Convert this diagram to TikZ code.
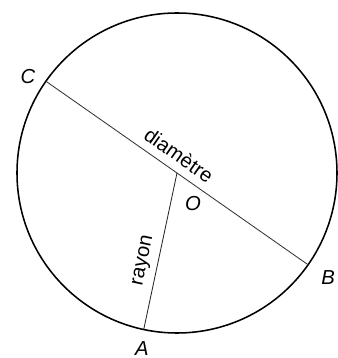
\documentclass[tikz,border=0pt]{standalone}
\usepackage{fontspec}
\setsansfont{Liberation Sans}
\usepackage{tikz}
\usetikzlibrary{calc}

\begin{document}
\begin{tikzpicture}[line join=round, line cap=round]
\useasboundingbox (-4.425,-4.625) rectangle (4.000,4.325);
\coordinate (O) at (0.000,0.000);
\coordinate (A) at (-0.832,-3.912);
\coordinate (B) at (3.277,-2.294);
\coordinate (C) at (-3.277,2.294);
\draw[line width=1.1pt] (O) circle (4);
\draw[line width=0.6pt, black!80] (C) -- (B);
\draw[line width=0.6pt, black!85] (O) -- (A);
\node[font=\sffamily\Large, inner sep=0pt] at (-3.725,2.400) {\textit{C}};
\node[font=\sffamily\Large, inner sep=0pt] at (3.775,-2.625) {\textit{B}};
\node[font=\sffamily\Large, inner sep=0pt] at (-0.875,-4.380) {\textit{A}};
\node[font=\sffamily\Large, inner sep=0pt] at (0.400,-0.775) {\textit{O}};
\node[font=\sffamily\Large, inner sep=0pt, rotate=-35] at (0.050,0.450) {diamètre};
\node[font=\sffamily\Large, inner sep=0pt, rotate=78] at (-0.825,-2.200) {rayon};
\end{tikzpicture}
\end{document}
